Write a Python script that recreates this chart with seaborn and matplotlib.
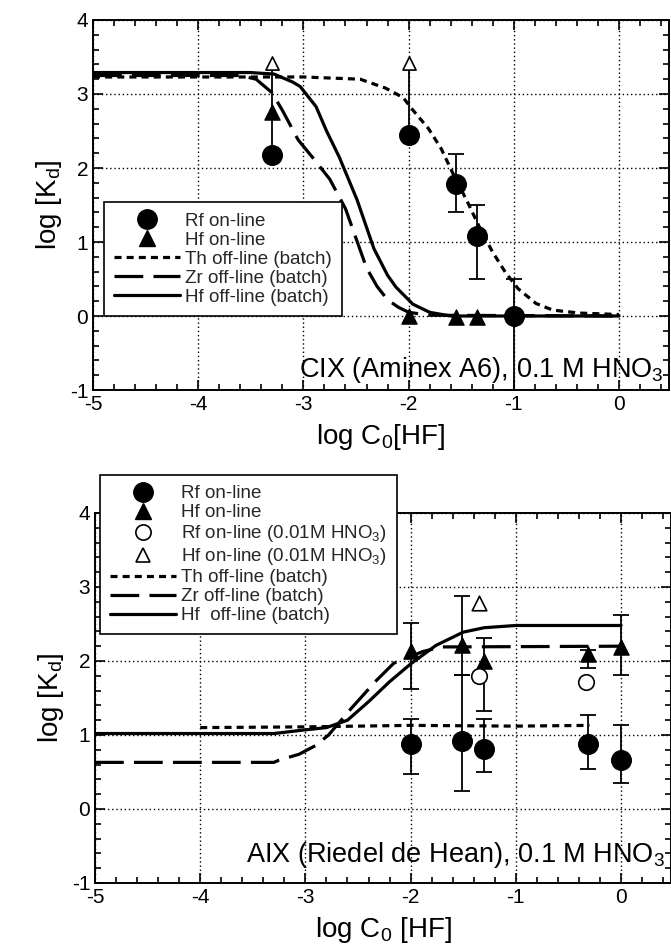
import matplotlib
matplotlib.use("Agg")
import matplotlib.pyplot as plt
from matplotlib.lines import Line2D
from matplotlib.ticker import MultipleLocator
import seaborn as sns

# ---------------- CIX (Aminex A6), 0.1 M HNO3 ----------------
cix_rf_x = [-1.55, -1.35, -1.0]
cix_rf_y = [1.79, 1.08, 0.0]
cix_rf_lo = [0.39, 0.58, 1.0]
cix_rf_hi = [0.40, 0.42, 0.5]
# Rf lower limits (arrow up)
cix_lim_x = [-3.3, -2.0]
cix_lim_y = [2.17, 2.45]
cix_lim_top = [3.42, 3.42]
cix_hf_x = [-3.3, -2.0, -1.55, -1.35]
cix_hf_y = [2.76, 0.0, -0.02, -0.02]

cix_th_x = [-5.0, -4.0, -3.0, -2.46, -2.22, -2.05, -1.97, -1.81, -1.69, -1.57, -1.44,
            -1.32, -1.2, -1.08, -0.96, -0.79, -0.63, -0.38, 0.0]
cix_th_y = [3.23, 3.23, 3.23, 3.2, 3.08, 2.95, 2.8, 2.53, 2.26, 1.9, 1.54,
            1.18, 0.86, 0.59, 0.37, 0.17, 0.08, 0.04, 0.02]
cix_zr_x = [-5.0, -3.6, -3.45, -3.3, -3.2, -3.05, -2.9, -2.75, -2.6, -2.5, -2.4,
            -2.3, -2.2, -2.1, -2.0, -1.8, 0.0]
cix_zr_y = [3.25, 3.25, 3.2, 3.02, 2.78, 2.38, 2.12, 1.85, 1.45, 1.05, 0.65,
            0.4, 0.22, 0.12, 0.05, 0.01, 0.0]
cix_hf_off_x = [-5.0, -3.5, -3.4, -3.28, -3.1, -3.03, -2.88, -2.78, -2.66, -2.49,
                -2.33, -2.2, -2.12, -1.96, -1.8, -1.6, 0.0]
cix_hf_off_y = [3.29, 3.29, 3.28, 3.27, 3.16, 3.1, 2.83, 2.5, 2.15, 1.57,
                0.91, 0.55, 0.39, 0.16, 0.05, 0.0, 0.0]

# ---------------- AIX (Riedel de Hean), 0.1 M HNO3 ----------------
aix_rf_x = [-2.0, -1.51, -1.3, -0.31, 0.0]
aix_rf_y = [0.875, 0.915, 0.81, 0.875, 0.66]
aix_rf_lo = [0.405, 0.675, 0.31, 0.335, 0.31]
aix_rf_hi = [0.345, 0.895, 0.41, 0.395, 0.48]
aix_hf_x = [-2.0, -1.51, -1.3, -0.31, 0.0]
aix_hf_y = [2.14, 2.21, 2.0, 2.1, 2.19]
aix_hf_lo = [0.52, 0.4, 0.68, 0.2, 0.38]
aix_hf_hi = [0.37, 0.67, 0.31, 0.05, 0.43]
aix_rf01_x = [-1.35, -0.33]
aix_rf01_y = [1.8, 1.71]
aix_hf01_x = [-1.35]
aix_hf01_y = [2.79]

aix_th_x = [-4.0, -3.0, -2.0, -1.0, -0.3]
aix_th_y = [1.1, 1.11, 1.13, 1.12, 1.13]
aix_zr_x = [-5.0, -3.3, -3.25, -3.06, -2.9, -2.78, -2.57, -2.33, -2.16, -1.88, -1.7, 0.0]
aix_zr_y = [0.63, 0.63, 0.66, 0.74, 0.86, 1.0, 1.35, 1.73, 1.97, 2.13, 2.19, 2.2]
aix_hf_off_x = [-5.0, -3.3, -3.06, -2.8, -2.6, -2.4, -2.2, -2.0, -1.76, -1.5, -1.3, -1.0, 0.0]
aix_hf_off_y = [1.02, 1.02, 1.06, 1.1, 1.2, 1.45, 1.72, 1.96, 2.21, 2.39, 2.45, 2.48, 2.48]

sns.set_style("ticks")
plt.rcParams["font.family"] = ["Liberation Sans", "DejaVu Sans"]
plt.rcParams["mathtext.fontset"] = "custom"
plt.rcParams["mathtext.rm"] = "Liberation Sans"
plt.rcParams["mathtext.default"] = "regular"
plt.rcParams["axes.unicode_minus"] = False

TH_LS = (0, (2.2, 1.6))
ZR_LS = (0, (9, 3.2))
LW = 2.3
CIRC = 14
TRI = 11


def style_axes(ax):
    ax.set_xlim(-5, 0.475)
    ax.set_ylim(-1, 4)
    ax.xaxis.set_major_locator(MultipleLocator(1))
    ax.xaxis.set_minor_locator(MultipleLocator(0.2))
    ax.yaxis.set_major_locator(MultipleLocator(1))
    ax.yaxis.set_minor_locator(MultipleLocator(0.2))
    ax.tick_params(which="both", direction="in", top=True, right=True,
                   color="black", width=1.2, labelsize=15, labelcolor="black")
    ax.tick_params(which="major", length=7)
    ax.tick_params(which="minor", length=4)
    ax.grid(True, which="major", linestyle=(0, (1, 2)), color="black", linewidth=1)
    for s in ax.spines.values():
        s.set_color("black")
        s.set_linewidth(1.4)
    ax.set_ylabel("log [K$_d$]", fontsize=20, color="black")


def curve(ax, x, y, ls):
    sns.lineplot(x=x, y=y, ax=ax, color="black", linewidth=LW, linestyle=ls,
                 estimator=None, sort=False)


def bars(ax, x, y, lo, hi):
    ax.errorbar(x, y, yerr=[lo, hi], fmt="none", ecolor="black",
                elinewidth=1.3, capsize=6, capthick=1.3, zorder=3)


fig = plt.figure(figsize=(6.71, 9.52), dpi=100)
ax1 = fig.add_axes([93 / 671, 1 - 390 / 952, 576 / 671, 370 / 952])
ax2 = fig.add_axes([95 / 671, 1 - 883 / 952, 576 / 671, 370 / 952])

# ---- top panel ----
style_axes(ax1)
curve(ax1, cix_th_x, cix_th_y, TH_LS)
curve(ax1, cix_zr_x, cix_zr_y, ZR_LS)
curve(ax1, cix_hf_off_x, cix_hf_off_y, "-")
bars(ax1, cix_rf_x, cix_rf_y, cix_rf_lo, cix_rf_hi)
ax1.vlines(cix_lim_x, cix_lim_y, cix_lim_top, color="black", linewidth=1.3, zorder=3)
sns.scatterplot(x=cix_lim_x, y=cix_lim_top, ax=ax1, marker="^", s=90,
                facecolor="white", edgecolor="black", linewidth=1.2, zorder=4, legend=False)
sns.scatterplot(x=cix_lim_x + cix_rf_x, y=cix_lim_y + cix_rf_y, ax=ax1, marker="o",
                s=CIRC ** 2, color="black", edgecolor="black", zorder=5, legend=False)
sns.scatterplot(x=cix_hf_x, y=cix_hf_y, ax=ax1, marker="^", s=TRI ** 2,
                color="black", edgecolor="black", zorder=5, legend=False)
ax1.set_xlabel("log C$_0$[HF]", fontsize=20, color="black", labelpad=6)
ax1.text(0.99, 0.035, "CIX (Aminex A6), 0.1 M HNO$_3$", transform=ax1.transAxes,
         ha="right", va="baseline", fontsize=19.5, color="black", zorder=6)

h_rf = Line2D([], [], color="black", marker="o", markersize=CIRC, linestyle="none")
h_hf = Line2D([], [], color="black", marker="^", markersize=TRI, linestyle="none")
h_rf01 = Line2D([], [], color="black", marker="o", markersize=11, markerfacecolor="white",
                markeredgewidth=1.2, linestyle="none")
h_hf01 = Line2D([], [], color="black", marker="^", markersize=10, markerfacecolor="white",
                markeredgewidth=1.2, linestyle="none")
h_th = Line2D([], [], color="black", linewidth=LW, linestyle=TH_LS)
h_zr = Line2D([], [], color="black", linewidth=LW, linestyle=ZR_LS)
h_hf_off = Line2D([], [], color="black", linewidth=LW, linestyle="-")

leg_kw = dict(fontsize=13.5, frameon=True, fancybox=False, framealpha=1,
              edgecolor="black", handlelength=3.5, handletextpad=0.25,
              labelspacing=0.1, borderpad=0.55, borderaxespad=0)
leg1 = ax1.legend([h_rf, h_hf, h_th, h_zr, h_hf_off],
                  ["Rf on-line", "Hf on-line", "Th off-line (batch)",
                   "Zr off-line (batch)", "Hf off-line (batch)"],
                  loc="lower left", bbox_to_anchor=(0.019, 0.2), **leg_kw)
leg1.get_frame().set_linewidth(1.2)
leg1.set_zorder(7)

# ---- bottom panel ----
style_axes(ax2)
curve(ax2, aix_th_x, aix_th_y, TH_LS)
curve(ax2, aix_zr_x, aix_zr_y, ZR_LS)
curve(ax2, aix_hf_off_x, aix_hf_off_y, "-")
bars(ax2, aix_rf_x, aix_rf_y, aix_rf_lo, aix_rf_hi)
bars(ax2, aix_hf_x, aix_hf_y, aix_hf_lo, aix_hf_hi)
sns.scatterplot(x=aix_rf_x, y=aix_rf_y, ax=ax2, marker="o", s=CIRC ** 2,
                color="black", edgecolor="black", zorder=5, legend=False)
sns.scatterplot(x=aix_hf_x, y=aix_hf_y, ax=ax2, marker="^", s=TRI ** 2,
                color="black", edgecolor="black", zorder=5, legend=False)
sns.scatterplot(x=aix_rf01_x, y=aix_rf01_y, ax=ax2, marker="o", s=125,
                facecolor="white", edgecolor="black", linewidth=1.2, zorder=5, legend=False)
sns.scatterplot(x=aix_hf01_x, y=aix_hf01_y, ax=ax2, marker="^", s=110,
                facecolor="white", edgecolor="black", linewidth=1.2, zorder=5, legend=False)
ax2.set_xlabel("log C$_0$ [HF]", fontsize=20, color="black", labelpad=6)
ax2.text(0.99, 0.057, "AIX (Riedel de Hean), 0.1 M HNO$_3$", transform=ax2.transAxes,
         ha="right", va="baseline", fontsize=19.5, color="black", zorder=6)

leg2 = ax2.legend([h_rf, h_hf, h_rf01, h_hf01, h_th, h_zr, h_hf_off],
                  ["Rf on-line", "Hf on-line", "Rf on-line (0.01M HNO$_3$)",
                   "Hf on-line (0.01M HNO$_3$)", "Th off-line (batch)",
                   "Zr off-line (batch)", "Hf  off-line (batch)"],
                  loc="upper left", bbox_to_anchor=(0.009, 1.103), **leg_kw)
leg2.get_frame().set_linewidth(1.2)
leg2.set_zorder(7)

fig.savefig("out.png", dpi=100, facecolor="white")
